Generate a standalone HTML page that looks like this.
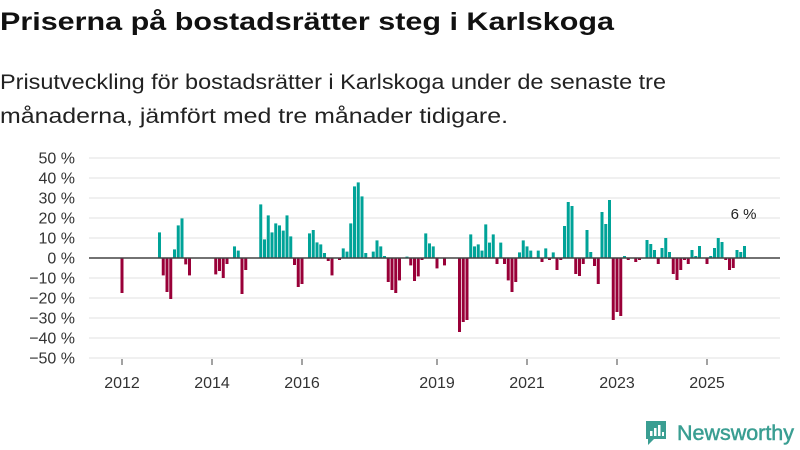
<!DOCTYPE html>
<html><head><meta charset="utf-8"><style>
html,body{margin:0;padding:0;background:#fff;width:800px;height:450px;overflow:hidden}
svg{display:block;font-family:"Liberation Sans","DejaVu Sans",sans-serif}
</style></head><body>
<svg id="chart" width="800" height="450" viewBox="0 0 800 450">
<text x="0" y="30" font-size="25" font-weight="bold" fill="#111" textLength="614" lengthAdjust="spacingAndGlyphs">Priserna på bostadsrätter steg i Karlskoga</text>
<text x="0" y="89" font-size="21" fill="#222" textLength="666" lengthAdjust="spacingAndGlyphs">Prisutveckling för bostadsrätter i Karlskoga under de senaste tre</text>
<text x="0" y="123" font-size="21" fill="#222" textLength="508" lengthAdjust="spacingAndGlyphs">månaderna, jämfört med tre månader tidigare.</text>
<g id="grid"></g>
<g id="yaxis"></g>
<g id="xaxis"></g>
<g id="bars"></g>
<g>
<path d="M646 421 h20 v18 h-12 l-6 6 v-6 h-2 z" fill="#3a9e92"/>
<rect x="650" y="431" width="2.5" height="5" fill="#fff"/><rect x="654" y="428" width="2.5" height="8" fill="#fff"/><rect x="658" y="425" width="2.5" height="11" fill="#fff"/><rect x="662" y="432" width="2" height="4" fill="#fff"/>
<text x="677" y="440" font-size="21" fill="#3a9e92" stroke="#3a9e92" stroke-width="0.5" textLength="117" lengthAdjust="spacingAndGlyphs">Newsworthy</text>
</g>
</svg>
<script>
const yTicks=[50,40,30,20,10,0,-10,-20,-30,-40,-50];
const xTickYears=[2012,2014,2016,2019,2021,2023,2025];
const startYear=2012;
// monthly change (%) from Jan 2012, index = months since start; null = no data
const values=[
-17.5,null,null,null,null,null,null,null,null,null,
12.8,-8.7,-17,-20.5,4.3,16.3,19.8,-3.2,-8.7,null,
null,null,null,null,null,-8.2,-6.5,-10,-3,null,
5.8,3.7,-18,-6,null,null,null,26.8,9.3,21.3,
12.8,17.3,16.3,13.7,21.3,10.8,-3.5,-14.5,-13,null,
12.3,14,7.8,6.8,2.5,-1.5,-8.7,null,-1,4.8,
3.2,17.3,35.8,37.8,30.8,2.5,null,3.2,8.8,5.8,
1,-12,-16,-17.5,-11.2,null,0.7,-3.7,-11.5,-9.2,
-1,12.3,7.3,5.8,-5.2,null,-3.7,null,null,null,
-37,-32,-31,11.8,5.8,6.8,3.7,16.8,7.7,11.8,
-3,7.7,-3,-11.2,-17,-12,2.8,8.8,5.8,3.7,
null,3.7,-2,4.8,-1,2.8,-6,-1,16,28,
26,-8,-9,-3,14,3,-4,-13,23,17,
29,-31,-27,-29,1,-1,null,-2,-1,null,
9,7,4,-3,5,10,3,-8,-11,-6,
-1,-3,4,1,6,null,-3,1,5,10,
8,-1,-6,-5,4,3,6];
const NS='http://www.w3.org/2000/svg';
const x0=122, pxPerMonth=3.75, zeroY=258, pxPerPct=2;
function xScale(i){return x0+i*pxPerMonth;}
function yScale(v){return zeroY-v*pxPerPct;}
function mk(tag,attrs,parent){const e=document.createElementNS(NS,tag);for(const k in attrs)e.setAttribute(k,attrs[k]);parent.appendChild(e);return e;}
const grid=document.getElementById('grid'),ya=document.getElementById('yaxis'),xa=document.getElementById('xaxis'),bars=document.getElementById('bars');
yTicks.forEach(t=>{
  const l=mk('line',{x1:89,x2:780,y1:yScale(t),y2:yScale(t),stroke:'#e2e2e2','stroke-width':1},grid);
  
  
  const tx=mk('text',{x:75,y:yScale(t)+5.5,'font-size':16,fill:'#333','text-anchor':'end'},ya);
  tx.textContent=(t<0?'\u2212'+(-t):t)+' %';
  
  
});
xTickYears.forEach(yr=>{
  const x=xScale((yr-startYear)*12);
  const tk=mk('line',{x1:x,x2:x,y1:359,y2:365,stroke:'#444','stroke-width':1},xa);
  
  
  const tx=mk('text',{x:x,y:388,'font-size':16,fill:'#333','text-anchor':'middle'},xa);
  tx.textContent=yr;
  
  
});
values.forEach((v,i)=>{
  if(v===null)return;
  const x=xScale(i)-1.5, y=v>=0?yScale(v):zeroY, h=Math.abs(v)*pxPerPct;
  const r=mk('rect',{x:x,y:y,width:3,height:h,fill:v>=0?'#00a398':'#990038'},bars);
  
  
});
mk('line',{x1:89,x2:780,y1:zeroY,y2:zeroY,stroke:'#444','stroke-width':1.5},bars);
const last=values.length-1;
const lab=mk('text',{x:xScale(last)-1,y:yScale(values[last])-27,'font-size':15,fill:'#222','text-anchor':'middle'},bars);
lab.textContent=Math.round(values[last])+' %';


</script>
</body></html>
